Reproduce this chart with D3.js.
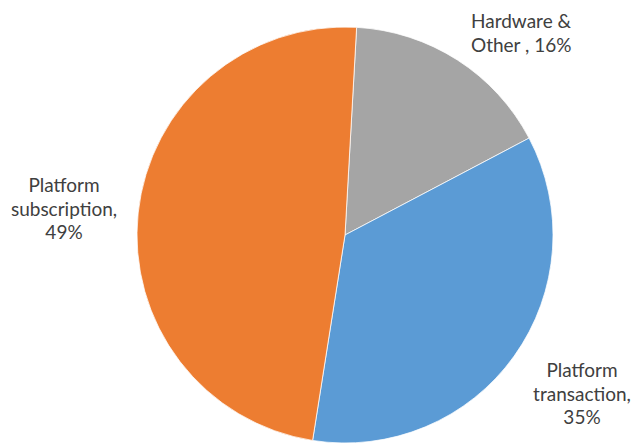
<!DOCTYPE html>
<html>
<head>
<meta charset="utf-8">
<script src="https://cdn.jsdelivr.net/npm/d3@7"></script>
<style>
  html, body { margin: 0; padding: 0; background: #fff; }
  svg { display: block; }
  text { font-family: Lato, "Open Sans", sans-serif; fill: #404040; }
</style>
</head>
<body>
<svg id="chart" width="633" height="445"></svg>
<script>
// Data
const categories = ["Hardware & Other", "Platform transaction", "Platform subscription"];
const values = [16.4, 35.2, 48.4];
const labelLines = [["Hardware &", "Other , 16%"], ["Platform", "transaction,", "35%"], ["Platform", "subscription,", "49%"]];
const colors = ["#A5A5A5", "#5B9BD5", "#ED7D31"];

// Layout
const W = 633, H = 445;
const cx = 345, cy = 235, R = 208;
const startDeg = 3.2;
// label anchor: [x, first baseline y, anchor]
const labelPos = [[471, 28, "start"], [582, 377, "middle"], [64, 192, "middle"]];
const lineH = 23.5;

const svg = d3.select("#chart");
const g = svg.append("g").attr("transform", `translate(${cx},${cy})`);

const pie = d3.pie().sort(null).value(d => d)
  .startAngle(startDeg * Math.PI / 180)
  .endAngle(startDeg * Math.PI / 180 + 2 * Math.PI);
const arc = d3.arc().innerRadius(0).outerRadius(R);
const color = d3.scaleOrdinal().domain(categories).range(colors);

g.selectAll("path.slice").data(pie(values)).join("path")
  .attr("class", "slice")
  .attr("d", arc)
  .attr("fill", (d, i) => color(categories[i]))
  .attr("stroke", "#fff")
  .attr("stroke-width", 0.75);

const lbl = svg.selectAll("text.lbl").data(labelLines).join("text")
  .attr("class", "lbl")
  .attr("font-size", 19)
  .attr("text-anchor", (d, i) => labelPos[i][2]);
lbl.each(function (lines, i) {
  d3.select(this).selectAll("tspan").data(lines).join("tspan")
    .attr("x", labelPos[i][0])
    .attr("y", (l, j) => labelPos[i][1] + j * lineH)
    .text(l => l);
});
</script>
</body>
</html>
